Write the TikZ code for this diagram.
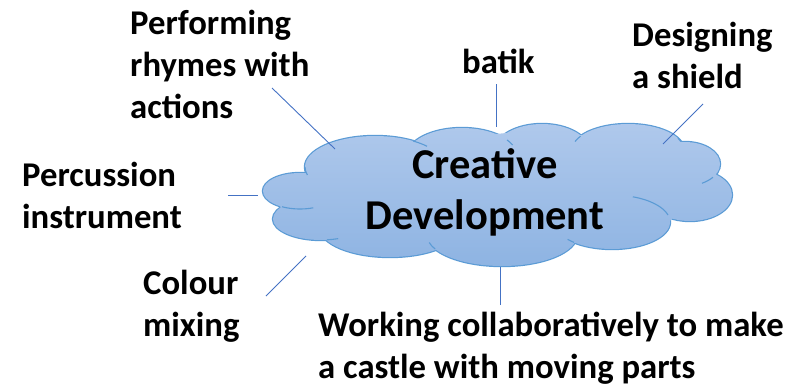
\documentclass[tikz,border=0pt]{standalone}
\usepackage{fontspec}
\setmainfont{Carlito}
\definecolor{cloudline}{RGB}{91,155,213}
\definecolor{cloudtop}{RGB}{176,201,236}
\definecolor{cloudbot}{RGB}{141,179,226}
\definecolor{connblue}{RGB}{68,114,196}
\tikzset{
  lbl/.style={font=\fontsize{34.7}{42}\selectfont\bfseries, align=left, inner sep=0pt, anchor=base west},
  title/.style={font=\fontsize{42.5}{51}\selectfont\bfseries, align=center, inner sep=0pt, anchor=base},
  conn/.style={draw=connblue, line width=0.9pt},
  lobe/.style={draw=cloudline, line width=2.4pt},
  innerarc/.style={draw=cloudline, line width=1.1pt},
}
\begin{document}
\begin{tikzpicture}[x=1pt,y=-1pt]
\useasboundingbox (0,0) rectangle (789,388);
\def\lobes{300/191/37/18, 321/219/48/21, 390/228/70/29, 502/235/75/31, 612/222/58/27, 690/195/42/26, 685/164/35/22, 628/150/56/26, 542/152/48/28, 462/156/55/28, 375/167/70/31}
% outline of every lobe (outer half stays visible)
\foreach \cx/\cy/\rx/\ry in \lobes {
  \draw[lobe] (\cx,\cy) ellipse[x radius=\rx, y radius=\ry];
}
% gradient fill of the union
\begin{scope}
  \clip \foreach \cx/\cy/\rx/\ry in \lobes {(\cx,\cy) ellipse[x radius=\rx, y radius=\ry]};
  \shade[top color=cloudtop, bottom color=cloudbot] (255,120) rectangle (740,270);
\end{scope}
\begin{scope}
  \clip (307,172) -- (413,141) -- (507,133) -- (578,135) -- (678,142) -- (713,176) -- (668,223) -- (572,243) -- (435,248) -- (327,240) -- (280,207) -- cycle;
  \shade[top color=cloudtop, bottom color=cloudbot] (255,120) rectangle (740,270);
\end{scope}
% inner arcs of the cloud
\foreach \cx/\cy/\rx/\ry/\ta/\tb in {300/191/37/18/69/119, 321/219/48/21/69/83, 375/167/70/31/165/180, 375/167/70/31/303/318, 462/156/55/28/325/337, 628/150/56/26/199/212, 628/150/56/26/333/341, 685/164/35/22/37/61, 612/222/58/27/291/345, 502/235/75/31/153/166, 612/222/58/27/131/140} {
  \draw[innerarc] ([shift={(\cx,\cy)}]\ta:{\rx} and {\ry}) arc[start angle=\ta, end angle=\tb, x radius=\rx, y radius=\ry];
}
% centre text (anchor = baseline of last line)
\node[title] (centre) at (485,229) {Creative\\Development};
% labels (anchor = baseline of last line)
\node[lbl] (perf) at (130,118) {Performing\\rhymes with\\actions};
\node[lbl] (batik) at (462,73) {batik};
\node[lbl] (shield) at (632,88) {Designing\\a shield};
\node[lbl] (perc) at (22,228) {Percussion\\instrument};
\node[lbl] (colour) at (143,336) {Colour\\mixing};
\node[lbl] (castle) at (318,378) {Working collaboratively to make\\a castle with moving parts};
% connector end points
\coordinate (p1) at (272,88);  \coordinate (q1) at (335,149);
\coordinate (p2) at (496,84);  \coordinate (q2) at (496,127);
\coordinate (p3) at (703,104); \coordinate (q3) at (663,144);
\coordinate (p4) at (228,195); \coordinate (q4) at (258,195);
\coordinate (p5) at (266,296); \coordinate (q5) at (306,256);
\coordinate (p6) at (500,305); \coordinate (q6) at (500,267);
\foreach \i in {1,...,6} { \draw[conn] (p\i) -- (q\i); }
\end{tikzpicture}
\end{document}
